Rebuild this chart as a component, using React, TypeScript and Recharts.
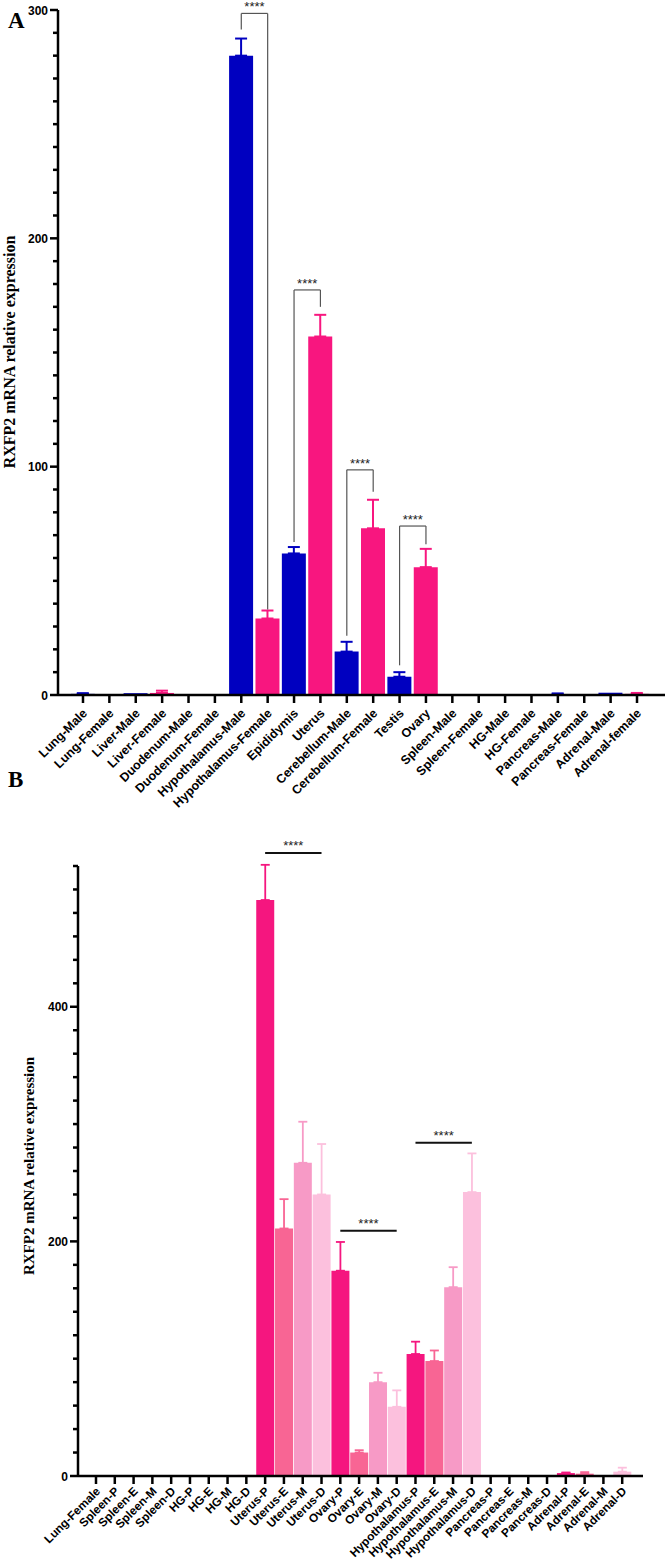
import React from 'react';
import { BarChart, Bar, XAxis, YAxis, ErrorBar, ReferenceLine } from 'recharts';

// panel A: tissues by sex
const tissuesA = [
  'Lung-Male', 'Lung-Female', 'Liver-Male', 'Liver-Female', 'Duodenum-Male', 'Duodenum-Female',
  'Hypothalamus-Male', 'Hypothalamus-Female', 'Epididymis', 'Uterus', 'Cerebellum-Male', 'Cerebellum-Female',
  'Testis', 'Ovary', 'Spleen-Male', 'Spleen-Female', 'HG-Male', 'HG-Female', 'Pancreas-Male', 'Pancreas-Female',
  'Adrenal-Male', 'Adrenal-female',
];
const sexA = ['M', 'F', 'M', 'F', 'M', 'F', 'M', 'F', 'M', 'F', 'M', 'F', 'M', 'F', 'M', 'F', 'M', 'F', 'M', 'F', 'M', 'F'];
const meanA = [0.5, 0.3, 0.8, 0.9, 0, 0, 280, 33.5, 62, 157, 19, 73, 8, 56, 0.2, 0, 0, 0, 0.3, 0, 1, 0.5];
const semA = [0.3, 0, 0, 1, 0, 0, 7.5, 3.5, 2.8, 9.5, 4.3, 12.5, 2, 8, 0, 0, 0, 0, 0.4, 0, 0, 0.4];
const ticksA = Array.from({ length: 31 }, (_, i) => i * 10);

const bracketsA = [
  { left: 'Hypothalamus-Male', right: 'Hypothalamus-Female', top: 298.5, leftEnd: 291.5, rightEnd: 37.5 },
  { left: 'Epididymis', right: 'Uterus', top: 177.4, leftEnd: 67, rightEnd: 170 },
  { left: 'Cerebellum-Male', right: 'Cerebellum-Female', top: 98.6, leftEnd: 26, rightEnd: 89 },
  { left: 'Testis', right: 'Ovary', top: 74, leftEnd: 13, rightEnd: 66 },
];

// panel B: tissues by estrous stage
const tissuesB = [
  'Lung-Female', 'Spleen-P', 'Spleen-E', 'Spleen-M', 'Spleen-D', 'HG-P', 'HG-E', 'HG-M', 'HG-D',
  'Uterus-P', 'Uterus-E', 'Uterus-M', 'Uterus-D', 'Ovary-P', 'Ovary-E', 'Ovary-M', 'Ovary-D',
  'Hypothalamus-P', 'Hypothalamus-E', 'Hypothalamus-M', 'Hypothalamus-D',
  'Pancreas-P', 'Pancreas-E', 'Pancreas-M', 'Pancreas-D', 'Adrenal-P', 'Adrenal-E', 'Adrenal-M', 'Adrenal-D',
];
const meanB = [0, 0, 0, 0.8, 0, 0, 0, 0.8, 1, 491, 211, 267, 240, 175, 20, 80, 59, 104, 98, 161, 242, 0, 0, 0, 0, 2.5, 2, 0, 3.7];
const semB = [0, 0, 0, 0, 0, 0, 0, 0, 0, 30, 25, 35, 43, 24.5, 2, 8, 14, 10.5, 9, 17, 33, 0, 0, 0, 0, 0.5, 1.3, 0, 3.4];
const ticksB = Array.from({ length: 27 }, (_, i) => i * 20);

const linesB = [
  { from: 'Uterus-P', to: 'Uterus-D', y: 531 },
  { from: 'Ovary-P', to: 'Ovary-D', y: 209 },
  { from: 'Hypothalamus-P', to: 'Hypothalamus-D', y: 284 },
];

const BLUE = '#0000C0';
const PINK = '#F8167F';
const STAGES = ['P', 'E', 'M', 'D'];
const STAGE_COLORS: Record<string, string> = { P: '#F5167F', E: '#F86594', M: '#F79AC6', D: '#FCC0DD' };

const SANS = "'Liberation Sans', Arial, sans-serif";
const SERIF = "'Liberation Serif', 'Times New Roman', serif";

const rowsA = tissuesA.map((name, i) => {
  const row: any = { name };
  const key = sexA[i] === 'M' ? 'male' : 'female';
  row[key] = meanA[i];
  if (semA[i] > 0) row[key + 'Err'] = [0, semA[i]];
  return row;
});

const rowsB = tissuesB.map((name, i) => {
  const row: any = { name };
  const stage = name.includes('-') ? name.split('-').pop() : 'P';
  row[stage as string] = meanB[i];
  if (semB[i] > 0) row[stage + 'Err'] = [0, semB[i]];
  return row;
});

const makeXTick = (fontSize: number, down: number) => (props: any) => {
  const { x, y, payload } = props;
  const tx = x + 5;
  const ty = y + down;
  return (
    <g>
      <line x1={x} y1={y} x2={x} y2={y + 8} stroke="#000" strokeWidth={2.5} />
      <text x={tx} y={ty} transform={`rotate(-45 ${tx} ${ty})`} textAnchor="end" fontFamily={SANS} fontWeight="bold" fontSize={fontSize} fill="#000">
        {payload.value}
      </text>
    </g>
  );
};

const makeYTick = (major: number) => (props: any) => {
  const { x, y, payload } = props;
  const isMajor = payload.value % major === 0;
  return (
    <g>
      <line x1={x} y1={y} x2={x - (isMajor ? 8 : 5)} y2={y} stroke="#000" strokeWidth={2.5} />
      {isMajor && (
        <text x={x - 10} y={y} dy={4.5} textAnchor="end" fontFamily={SANS} fontWeight="bold" fontSize={12} fill="#000">
          {payload.value}
        </text>
      )}
    </g>
  );
};

const axisLine = { stroke: '#000', strokeWidth: 2.5 };
const starLabel = (off: number) => ({ value: '****', position: 'top' as const, offset: off, fill: '#222', fontSize: 13, fontFamily: SANS });

export default function App() {
  return (
    <div style={{ position: 'absolute', left: 0, top: 0, width: 667, height: 1565, background: '#fff', overflow: 'hidden' }}>
      <div style={{ position: 'absolute', left: 0, top: 0 }}>
        <BarChart width={667} height={830} data={rowsA} margin={{ top: 10, right: 2, left: 0, bottom: 0 }} barCategoryGap={1}>
          <XAxis dataKey="name" interval={0} tickSize={0} tickMargin={0} tickLine={false} axisLine={axisLine}
            padding={{ left: 11.8, right: 14.8 }} height={135} tick={makeXTick(12.5, 19)} />
          <YAxis type="number" domain={[0, 300]} ticks={ticksA} interval={0} width={58} tickSize={0} tickMargin={0}
            tickLine={false} axisLine={axisLine} tick={makeYTick(100)} />
          <Bar dataKey="male" stackId="a" fill={BLUE} isAnimationActive={false}>
            <ErrorBar dataKey="maleErr" width={6} stroke={BLUE} strokeWidth={2} direction="y" isAnimationActive={false} />
          </Bar>
          <Bar dataKey="female" stackId="a" fill={PINK} isAnimationActive={false}>
            <ErrorBar dataKey="femaleErr" width={6} stroke={PINK} strokeWidth={2} direction="y" isAnimationActive={false} />
          </Bar>
          {bracketsA.map((b, i) => (
            <ReferenceLine key={'l' + i} ifOverflow="visible" stroke="#555" strokeWidth={1.2}
              segment={[{ x: b.left, y: b.leftEnd }, { x: b.left, y: b.top }]} />
          ))}
          {bracketsA.map((b, i) => (
            <ReferenceLine key={'t' + i} ifOverflow="visible" stroke="#555" strokeWidth={1.2}
              segment={[{ x: b.left, y: b.top }, { x: b.right, y: b.top }]} label={starLabel(2)} />
          ))}
          {bracketsA.map((b, i) => (
            <ReferenceLine key={'r' + i} ifOverflow="visible" stroke="#555" strokeWidth={1.2}
              segment={[{ x: b.right, y: b.top }, { x: b.right, y: b.rightEnd }]} />
          ))}
        </BarChart>
      </div>
      <div style={{ position: 'absolute', left: 0, top: 800 }}>
        <BarChart width={667} height={765} data={rowsB} margin={{ top: 66, right: 24, left: 0, bottom: 0 }} barCategoryGap={0.5}>
          <XAxis dataKey="name" interval={0} tickSize={0} tickMargin={0} tickLine={false} axisLine={axisLine}
            padding={{ left: 8.6, right: 11.4 }} height={89} tick={makeXTick(11.8, 16)} />
          <YAxis type="number" domain={[0, 520]} ticks={ticksB} interval={0} width={78} tickSize={0} tickMargin={0}
            tickLine={false} axisLine={axisLine} tick={makeYTick(200)} />
          {STAGES.map((s) => (
            <Bar key={s} dataKey={s} stackId="b" fill={STAGE_COLORS[s]} isAnimationActive={false}>
              <ErrorBar dataKey={s + 'Err'} width={4.5} stroke={STAGE_COLORS[s]} strokeWidth={1.8} direction="y" isAnimationActive={false} />
            </Bar>
          ))}
          {linesB.map((l, i) => (
            <ReferenceLine key={i} ifOverflow="visible" stroke="#111" strokeWidth={2}
              segment={[{ x: l.from, y: l.y }, { x: l.to, y: l.y }]} label={starLabel(3)} />
          ))}
        </BarChart>
      </div>
      <svg width={667} height={1565} style={{ position: 'absolute', left: 0, top: 0, pointerEvents: 'none' }}>
        <text x={8} y={28} fontFamily={SERIF} fontWeight="bold" fontSize={23}>A</text>
        <text x={8} y={787} fontFamily={SERIF} fontWeight="bold" fontSize={23}>B</text>
        <text x={15} y={352} transform="rotate(-90 15 352)" textAnchor="middle" fontFamily={SERIF} fontWeight="bold" fontSize={16}>
          RXFP2 mRNA relative expression
        </text>
        <text x={34} y={1166} transform="rotate(-90 34 1166)" textAnchor="middle" fontFamily={SERIF} fontWeight="bold" fontSize={15}>
          RXFP2 mRNA relative expression
        </text>
      </svg>
    </div>
  );
}
